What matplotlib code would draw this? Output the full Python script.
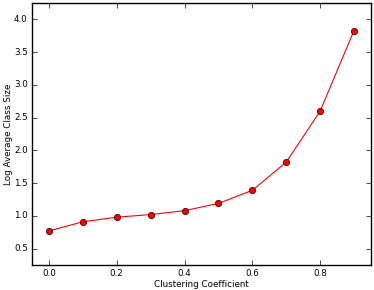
import matplotlib
matplotlib.use('Agg')
import matplotlib.pyplot as plt

clustering = [0.0, 0.1, 0.2, 0.3, 0.4, 0.5, 0.6, 0.7, 0.8, 0.9]
log_size = [0.77, 0.91, 0.98, 1.02, 1.08, 1.19, 1.39, 1.82, 2.60, 3.83]

plt.style.use('classic')
fig = plt.figure(figsize=(3.74, 2.90), dpi=100)
ax = fig.add_axes([32/374., 1-265/290., 339/374., 262/290.])
ax.plot(clustering, log_size, '-', color='red', lw=0.8)
ax.plot(clustering, log_size, 'o', color='red', mec='#550000', mew=0.6, ms=4.5)
ax.set_xlim(-0.05, 0.95)
ax.set_ylim(0.25, 4.25)
ax.set_xticks([0.0, 0.2, 0.4, 0.6, 0.8])
ax.set_yticks([0.5, 1.0, 1.5, 2.0, 2.5, 3.0, 3.5, 4.0])
ax.tick_params(labelsize=6.3, length=3.5, pad=3)
ax.set_xlabel('Clustering Coefficient', fontsize=6.3, labelpad=1)
ax.set_ylabel('Log Average Class Size', fontsize=6.3, labelpad=1)
fig.savefig('out.png', dpi=100)
